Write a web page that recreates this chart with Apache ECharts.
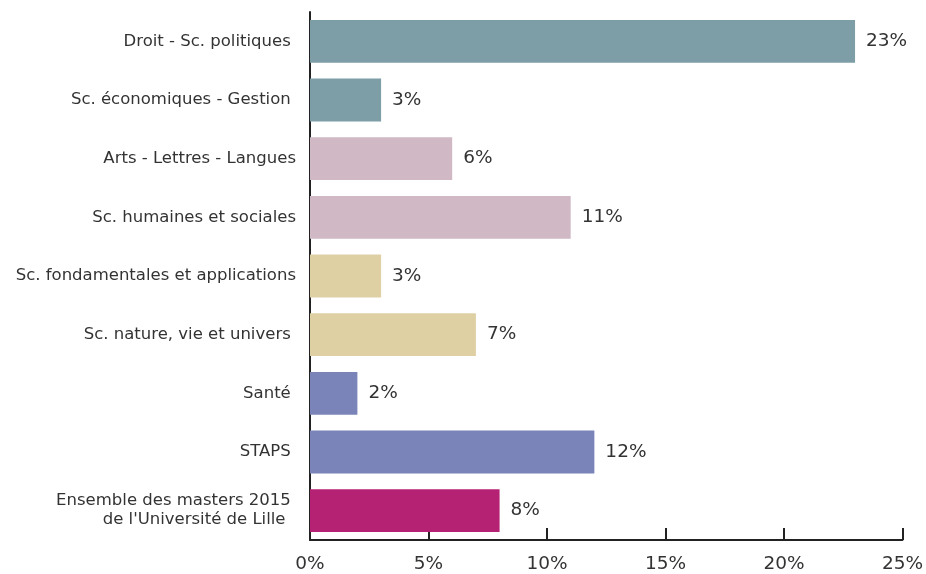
<!DOCTYPE html>
<html>
<head>
<meta charset="utf-8">
<script src="https://cdn.jsdelivr.net/npm/echarts@6/dist/echarts.min.js"></script>
<style>
  html, body { margin: 0; padding: 0; background: #fff; }
  #chart { width: 926px; height: 574px; }
</style>
</head>
<body>
<div id="chart"></div>
<script>
// catégories (de haut en bas)
const categories = [
  'Droit - Sc. politiques ',
  'Sc. économiques - Gestion ',
  'Arts - Lettres - Langues',
  'Sc. humaines et sociales',
  'Sc. fondamentales et applications',
  'Sc. nature, vie et univers ',
  'Santé ',
  'STAPS ',
  'Ensemble des masters 2015 \nde l\'Université de Lille  '
]
const values = [23, 3, 6, 11, 3, 7, 2, 12, 8]
const barColors = [
  '#7d9da7', '#7d9da7',
  '#d0b9c5', '#d0b9c5',
  '#dfd0a4', '#dfd0a4',
  '#7a84b8', '#7a84b8',
  '#b62273'
]
const xTicks = [0, 5, 10, 15, 20, 25]

const font = '"DejaVu Sans", Verdana, sans-serif'
const chart = echarts.init(document.getElementById('chart'))

chart.setOption({
  animation: false,
  grid: { left: 310, right: 22, top: 12, bottom: 33, containLabel: false },
  xAxis: {
    type: 'value',
    min: xTicks[0],
    max: xTicks[xTicks.length - 1],
    interval: 5,
    axisLine: { show: true, lineStyle: { color: '#222', width: 2 } },
    axisTick: { show: true, inside: true, length: 12, lineStyle: { color: '#222', width: 2 } },
    splitLine: { show: false },
    axisLabel: {
      formatter: v => v + '%',
      color: '#333',
      fontFamily: font,
      fontSize: 18.5,
      margin: 15
    }
  },
  yAxis: {
    type: 'category',
    inverse: true,
    data: categories,
    axisLine: { show: true, lineStyle: { color: '#222', width: 2 } },
    axisTick: { show: false },
    axisLabel: {
      color: '#333',
      fontFamily: font,
      fontSize: 16.5,
      margin: 14,
      lineHeight: 19,
      align: 'right'
    }
  },
  series: [{
    type: 'bar',
    data: values.map((v, i) => ({ value: v, itemStyle: { color: barColors[i] } })),
    barCategoryGap: '27%',
    label: {
      show: true,
      position: 'right',
      distance: 11,
      formatter: p => p.value + '%',
      color: '#333',
      fontFamily: font,
      fontSize: 18.5
    }
  }]
})
</script>
</body>
</html>
